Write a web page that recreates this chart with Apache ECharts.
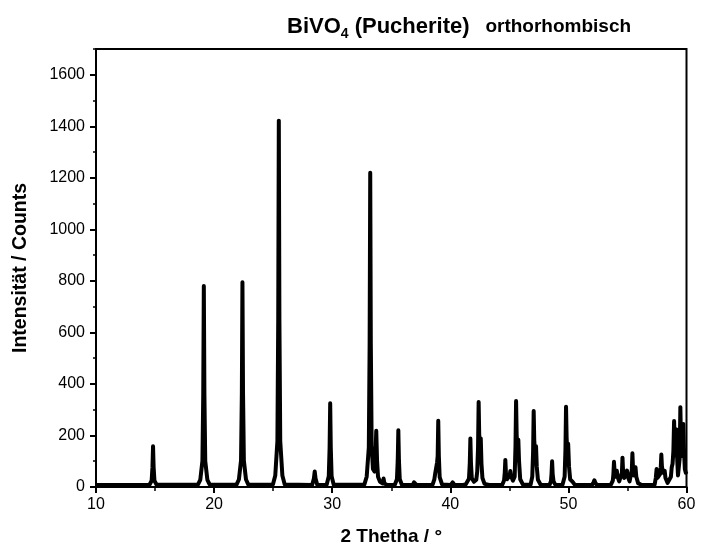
<!DOCTYPE html>
<html>
<head>
<meta charset="utf-8">
<title>BiVO4 Pucherite</title>
<script src="https://cdn.jsdelivr.net/npm/echarts@6/dist/echarts.min.js"></script>
<style>
  html, body { margin: 0; padding: 0; background: #fff; }
  #main { width: 702px; height: 557px; }
</style>
</head>
<body>
<div id="main"></div>
<script>
// Röntgendiffraktogramm, Werte (2θ / Counts)
var twoTheta = [
  10.00,
  14.53, 14.71, 14.78, 14.83, 14.88, 14.95, 15.13,
  18.63, 18.83, 19.01, 19.08, 19.13, 19.18, 19.25, 19.43, 19.63,
  21.90, 22.10, 22.28, 22.35, 22.40, 22.45, 22.52, 22.70, 22.90,
  24.98, 25.18, 25.36, 25.43, 25.48, 25.53, 25.60, 25.78, 25.98,
  28.30, 28.45, 28.52, 28.59, 28.74,
  29.53, 29.71, 29.78, 29.83, 29.88, 29.95, 30.13,
  32.72, 32.92, 33.10, 33.17, 33.22, 33.27, 33.34, 33.45, 33.58, 33.66, 33.73, 33.80, 33.88, 34.05, 34.28, 34.35, 34.42, 34.65,
  35.30, 35.48, 35.55, 35.60, 35.65, 35.72, 35.90,
  36.83, 36.93, 36.98, 37.03, 37.13,
  38.50, 38.65, 38.73, 38.80, 38.88, 38.93, 38.98, 39.03, 39.10, 39.30,
  40.05, 40.15, 40.20, 40.25, 40.35,
  41.05, 41.19, 41.30, 41.45, 41.58, 41.65, 41.70, 41.75, 41.82, 42.00, 42.20, 42.28, 42.35, 42.40, 42.45, 42.52, 42.58, 42.64, 42.72, 42.90, 43.30,
  44.40, 44.55, 44.61, 44.66, 44.71, 44.80, 44.95, 45.03, 45.08, 45.13, 45.30, 45.45, 45.52, 45.57, 45.62, 45.70, 45.76, 45.82, 45.92, 46.15,
  46.80, 46.94, 47.01, 47.06, 47.11, 47.18, 47.26, 47.32, 47.42, 47.65,
  48.40, 48.52, 48.57, 48.62, 48.67, 48.74, 48.90,
  49.50, 49.68, 49.75, 49.80, 49.85, 49.92, 49.98, 50.05, 50.15, 50.25, 50.30, 50.36, 50.55,
  52.00, 52.12, 52.20, 52.28, 52.40,
  53.60, 53.76, 53.81, 53.86, 53.91, 53.98, 54.05, 54.10, 54.16, 54.30,
  54.45, 54.53, 54.58, 54.63, 54.72, 54.88, 54.96, 55.03, 55.18, 55.30,
  55.37, 55.42, 55.47, 55.55, 55.62, 55.68, 55.75, 55.90, 56.20,
  56.62, 56.76, 56.90,
  57.30, 57.40, 57.47, 57.54, 57.65, 57.76, 57.82, 57.87, 57.92, 58.00,
  58.08, 58.15, 58.22, 58.40, 58.55, 58.68, 58.75, 58.82, 58.89, 58.95,
  59.00, 59.08, 59.15, 59.20, 59.28, 59.35, 59.42, 59.48, 59.54, 59.62,
  59.68, 59.73, 59.78, 59.86, 59.94, 60.00
];
var counts = [
  8,
  9, 24, 76, 158, 76, 24, 9,
  9, 28, 101, 356, 780, 356, 101, 28, 9,
  9, 29, 103, 363, 795, 363, 103, 29, 9,
  10, 45, 178, 646, 1422, 646, 178, 45, 10,
  8, 33, 60, 33, 8,
  9, 42, 152, 325, 152, 42, 9,
  9, 40, 153, 555, 1220, 555, 160, 70, 60, 110, 218, 100, 40, 20, 14, 33, 14, 8,
  9, 30, 104, 220, 104, 30, 9,
  8, 18, 24, 18, 8,
  9, 30, 55, 50, 95, 120, 257, 120, 38, 10,
  8, 14, 18, 14, 8,
  8, 13, 10, 16, 32, 93, 188, 93, 34, 20, 28, 60, 155, 330, 200, 170, 188, 90, 35, 12, 8,
  9, 25, 55, 105, 55, 30, 30, 45, 62, 45, 25, 40, 160, 334, 200, 150, 183, 100, 30, 9,
  9, 40, 135, 295, 180, 130, 158, 80, 28, 9,
  8, 22, 50, 100, 50, 22, 8,
  9, 40, 145, 311, 190, 130, 168, 80, 30, 25, 30, 20, 8,
  8, 17, 26, 17, 8,
  9, 25, 50, 98, 60, 40, 50, 63, 40, 22,
  25, 55, 114, 60, 35, 40, 64, 40, 22, 25,
  65, 131, 75, 45, 55, 77, 40, 15, 8,
  8, 13, 8,
  9, 35, 70, 35, 30, 50, 75, 126, 80, 55,
  58, 63, 35, 16, 18, 40, 77, 90, 140, 256,
  170, 200, 223, 120, 45, 50, 110, 310, 160, 120,
  160, 245, 150, 70, 55, 60
];
var xTicks = [10, 20, 30, 40, 50, 60];
var yTicks = [0, 200, 400, 600, 800, 1000, 1200, 1400, 1600];

var font = 'Liberation Sans, Arial, sans-serif';

var pattern = [];
for (var i = 0; i < twoTheta.length; i++) {
  pattern.push([twoTheta[i], counts[i]]);
}

var chart = echarts.init(document.getElementById('main'), null, { renderer: 'canvas' });

var option = {
  animation: false,
  backgroundColor: '#fff',
  title: {
    left: 282,
    top: 8,
    text: '{a|BiVO}{s|4}{a| (Pucherite)}{b|   orthorhombisch}',
    textStyle: {
      rich: {
        a: { fontFamily: font, fontSize: 22, fontWeight: 'bold', color: '#000', lineHeight: 28 },
        s: { fontFamily: font, fontSize: 14, fontWeight: 'bold', color: '#000', verticalAlign: 'bottom', lineHeight: 28 },
        b: { fontFamily: font, fontSize: 19, fontWeight: 'bold', color: '#000', lineHeight: 28 }
      }
    }
  },
  grid: {
    left: 96,
    right: 15.5,
    top: 49,
    bottom: 70,
    show: true,
    borderColor: '#000',
    borderWidth: 2
  },
  xAxis: [{
    type: 'value',
    min: xTicks[0],
    max: xTicks[xTicks.length - 1],
    interval: 10,
    name: '2 Thetha / \u00b0',
    nameLocation: 'middle',
    nameGap: 40,
    nameTextStyle: { fontFamily: font, fontSize: 19, fontWeight: 'bold', color: '#000' },
    axisLine: { lineStyle: { color: '#000', width: 2 } },
    axisTick: { length: 6, lineStyle: { color: '#000', width: 2 } },
    minorTick: { show: true, splitNumber: 2, length: 4, lineStyle: { color: '#000', width: 1.5 } },
    axisLabel: { fontFamily: font, fontSize: 16, color: '#000', margin: 10 },
    splitLine: { show: false }
  }],
  yAxis: [{
    type: 'value',
    min: yTicks[0],
    max: 1700,
    interval: 200,
    name: 'Intensit\u00e4t / Counts',
    nameLocation: 'middle',
    nameGap: 65,
    nameTextStyle: { fontFamily: font, fontSize: 19.5, fontWeight: 'bold', color: '#000' },
    axisLine: { lineStyle: { color: '#000', width: 2 } },
    axisTick: { length: 6, lineStyle: { color: '#000', width: 2 } },
    axisLabel: {
      fontFamily: font, fontSize: 16, color: '#000', margin: 11, showMaxLabel: false,
      formatter: function (v) { return String(v); }
    },
    splitLine: { show: false }
  }, {
    // nur die kurzen Zwischenstriche (alle 100)
    type: 'value',
    position: 'left',
    min: 0,
    max: 1700,
    interval: 100,
    axisLine: { show: false },
    axisTick: { length: 3, lineStyle: { color: '#000', width: 1.5 } },
    axisLabel: { show: false },
    splitLine: { show: false }
  }],
  series: [{
    type: 'line',
    xAxisIndex: 0,
    yAxisIndex: 0,
    data: pattern,
    showSymbol: false,
    symbol: 'none',
    lineStyle: { color: '#000', width: 4, join: 'round' },
    clip: true
  }]
};

chart.setOption(option);
</script>
</body>
</html>
